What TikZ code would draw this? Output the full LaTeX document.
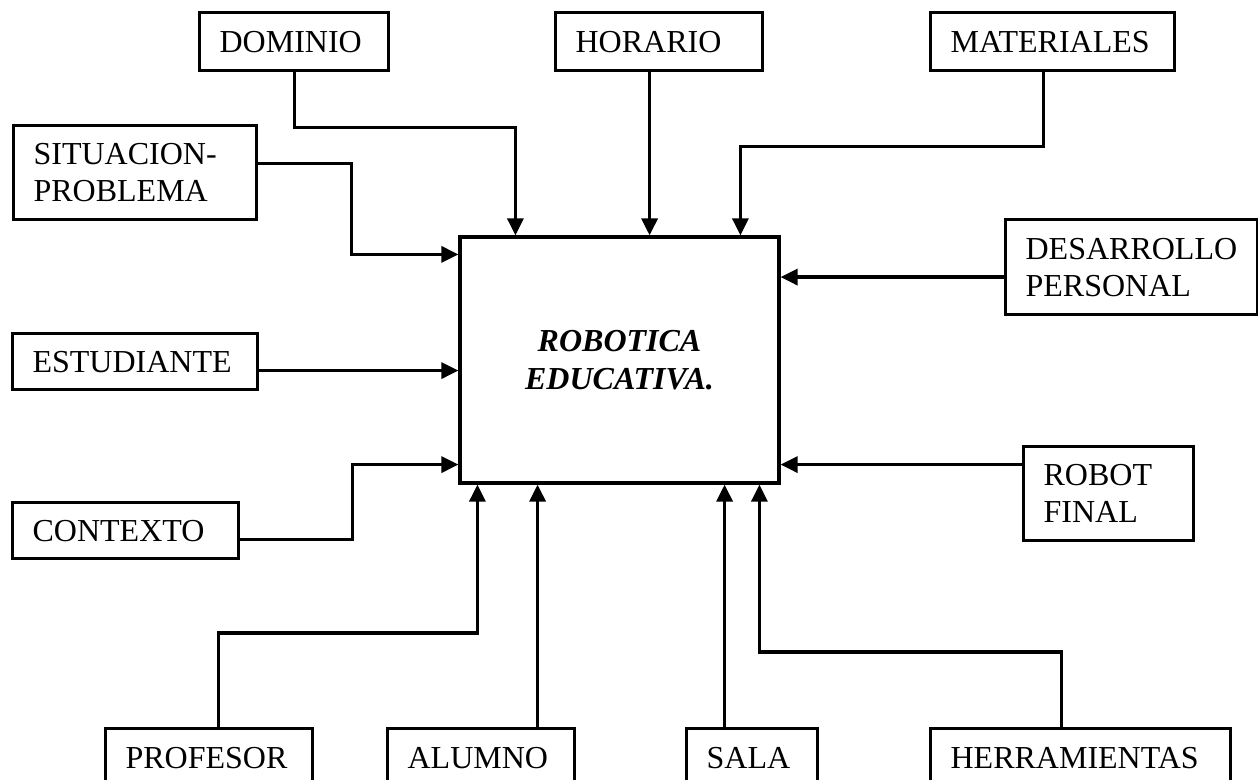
\documentclass[tikz,border=0pt]{standalone}
\usepackage{fontspec}
\setmainfont{Liberation Serif}
\usetikzlibrary{arrows.meta,calc}

\tikzset{
  caja/.style={draw, line width=1.6pt, anchor=north west, align=left,
    inner xsep=10pt, font=\fontsize{16}{18.5}\selectfont},
  flecha/.style={line width=1.6pt, -{Triangle[length=8.5pt,width=8pt]}}
}

\begin{document}
\begin{tikzpicture}[x=0.5pt,y=-0.5pt]
            \useasboundingbox (0,0) rectangle (1258,780);
            \node[draw, line width=1.6pt, minimum width=159.5pt, minimum height=123pt, align=center,
                  font=\fontsize{16}{19}\selectfont\bfseries\itshape] (central) at (619.5,360) {ROBOTICA\\EDUCATIVA.};
            \node[caja, text width=74.5pt, minimum height=29pt] (dominio) at (198,11) {DOMINIO};
            \node[caja, text width=83.5pt, minimum height=29pt] (horario) at (554,11) {HORARIO};
            \node[caja, text width=102pt, minimum height=29pt] (materiales) at (929,11) {MATERIALES};
            \node[caja, text width=101.5pt, minimum height=47pt] (situacion) at (12,124) {SITUACION-\\PROBLEMA};
            \node[caja, text width=106pt, minimum height=47.5pt] (desarrollo) at (1004,218) {DESARROLLO\\PERSONAL};
            \node[caja, text width=102.5pt, minimum height=28pt] (estudiante) at (11,332) {ESTUDIANTE};
            \node[caja, text width=65pt, minimum height=47pt] (robot) at (1022,445) {ROBOT\\FINAL};
            \node[caja, text width=93pt, minimum height=28pt] (contexto) at (11,501) {CONTEXTO};
            \node[caja, text width=83.5pt, minimum height=29pt] (profesor) at (104,727) {PROFESOR};
            \node[caja, text width=73.5pt, minimum height=29pt] (alumno) at (386,727) {ALUMNO};
            \node[caja, text width=45.5pt, minimum height=29pt] (sala) at (685,727) {SALA};
            \node[caja, text width=130pt, minimum height=29pt] (herramientas) at (929,727) {HERRAMIENTAS};

            \draw[flecha] (dominio.south) -- ++(0,55) -| ($(central.north west)+(57,0)$);
            \draw[flecha] ([xshift=-4.75pt]horario.south) -- ([xshift=-4.75pt]horario.south |- central.north);
            \draw[flecha] ([xshift=-4.5pt]materiales.south) -- ++(0,74) -| ($(central.north west)+(282,0)$);
            \draw[flecha] ([yshift=4.5pt]situacion.east) -- ++(93,0) |- ($(central.north west)+(0,19)$);
            \draw[flecha] ([yshift=-5pt]desarrollo.west) -- ([yshift=-5pt]desarrollo.west -| central.east);
            \draw[flecha] ([yshift=-4.5pt]estudiante.east) -- ([yshift=-4.5pt]estudiante.east -| central.west);
            \draw[flecha] ([yshift=14.5pt]robot.west) -- ([yshift=14.5pt]robot.west -| central.east);
            \draw[flecha] ([yshift=-4.5pt]contexto.east) -- ++(112,0) |- ($(central.south west)+(0,-20)$);
            \draw[flecha] ([xshift=4.75pt]profesor.north) -- ++(0,-94) -| ($(central.south west)+(19,0)$);
            \draw[flecha] ([xshift=28.25pt]alumno.north) -- ([xshift=28.25pt]alumno.north |- central.south);
            \draw[flecha] ([xshift=-13.75pt]sala.north) -- ([xshift=-13.75pt]sala.north |- central.south);
            \draw[flecha] ([xshift=-9.5pt]herramientas.north) -- ++(0,-75) -| ($(central.south west)+(301,0)$);
\end{tikzpicture}
\end{document}
